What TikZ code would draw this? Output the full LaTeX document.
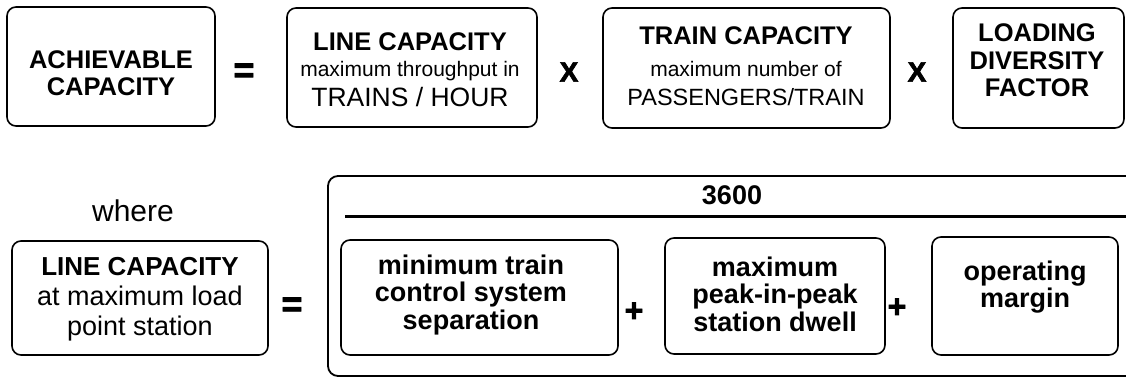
\documentclass[tikz,border=0pt]{standalone}
\usepackage{fontspec}
\setmainfont{Liberation Sans}
\newfontfamily\opfont[FakeBold=2.5]{Liberation Sans}
\usetikzlibrary{positioning}

\tikzstyle{tile}=[draw,
                  line width=1.6pt,
                  rounded corners=9pt,
                  inner sep=0pt,
                  outer sep=0pt]
\tikzstyle{bracket}=[draw,
                     line width=1.8pt,
                     rounded corners=10pt,
                     inner sep=0pt,
                     outer sep=0pt]
\tikzstyle{head}=[align=center,
                  font=\fontsize{25.5}{27.5}\selectfont\bfseries]
\tikzstyle{term}=[align=center,
                  font=\fontsize{27}{27.5}\selectfont\bfseries]
\tikzstyle{op}=[font=\opfont\bfseries]

\begin{document}
\begin{tikzpicture}[x=1pt,y=-1pt]
    \useasboundingbox (0,0) rectangle (1126,379);
    \clip (0,0) rectangle (1126,379);

    % top row: achievable = line x train x loading
    \node[tile, minimum width=208, minimum height=119] (achv) at (111,66.5) {};
    \node[tile, minimum width=250, minimum height=119] (line) at (412,67.5) {};
    \node[tile, minimum width=287, minimum height=120] (train) at (746.5,68) {};
    \node[tile, minimum width=171, minimum height=120] (load) at (1038.5,68) {};

    \node[head] (achv-t) at (111,73) {ACHIEVABLE\\CAPACITY};
    \node[align=center, font=\fontsize{26.5}{26}\selectfont] (line-t) at (410,70)
        {{\bfseries\fontsize{25.5}{26}\selectfont LINE CAPACITY}\\{\fontsize{21}{21}\selectfont maximum throughput in}\\[4pt]TRAINS / HOUR};
    \node[align=center, font=\fontsize{25.5}{29}\selectfont] (train-t) at (746,66.5)
        {{\bfseries TRAIN CAPACITY}\\[3pt]{\fontsize{21}{21}\selectfont maximum number of}\\{\fontsize{23.5}{23.5}\selectfont PASSENGERS/TRAIN}};
    \node[head] (load-t) at (1037,60.5) {LOADING\\DIVERSITY\\FACTOR};

    \node[op, font=\opfont\bfseries\fontsize{36}{36}\selectfont] (eq1) at (244,73) {=};
    \node[op, font=\opfont\bfseries\fontsize{28}{28}\selectfont] (times1) at (569,72) {X};
    \node[op, font=\opfont\bfseries\fontsize{28}{28}\selectfont] (times2) at (917,72) {X};

    % bottom row: line capacity = 3600 / (separation + dwell + margin)
    \node[font=\fontsize{30}{30}\selectfont] (where) at (133,211) {where};
    \node[tile, minimum width=256, minimum height=114] (line2) at (140,298) {};
    \node[align=center, font=\fontsize{27}{30}\selectfont] (line2-t) at (140,299.5)
        {{\bfseries\fontsize{26}{30}\selectfont LINE CAPACITY}\\at maximum load\\point station};
    \node[op, font=\opfont\bfseries\fontsize{36}{36}\selectfont] (eq2) at (292,307) {=};

    \node[bracket, anchor=north west, minimum width=830, minimum height=200] (frame) at (328,176) {};
    \node[font=\fontsize{27}{27}\selectfont\bfseries] (num) at (732,195) {3600};
    \coordinate (barL) at (345,217);
    \draw[line width=3pt] (barL) -- (barL -| frame.east);

    \node[tile, minimum width=277, minimum height=115] (sep) at (479.5,297.5) {};
    \node[tile, minimum width=220, minimum height=116] (dwell) at (775,296) {};
    \node[tile, minimum width=186, minimum height=118] (margin) at (1025,296) {};

    \node[term] (sep-t) at (471,295) {minimum train\\control system\\separation};
    \node[term] (dwell-t) at (775,294) {maximum\\peak-in-peak\\station dwell};
    \node[term] (margin-t) at (1025,287) {operating\\margin};

    \node[op, font=\opfont\bfseries\fontsize{32}{32}\selectfont] (plus1) at (634,312) {+};
    \node[op, font=\opfont\bfseries\fontsize{32}{32}\selectfont] (plus2) at (897,308) {+};
\end{tikzpicture}
\end{document}
